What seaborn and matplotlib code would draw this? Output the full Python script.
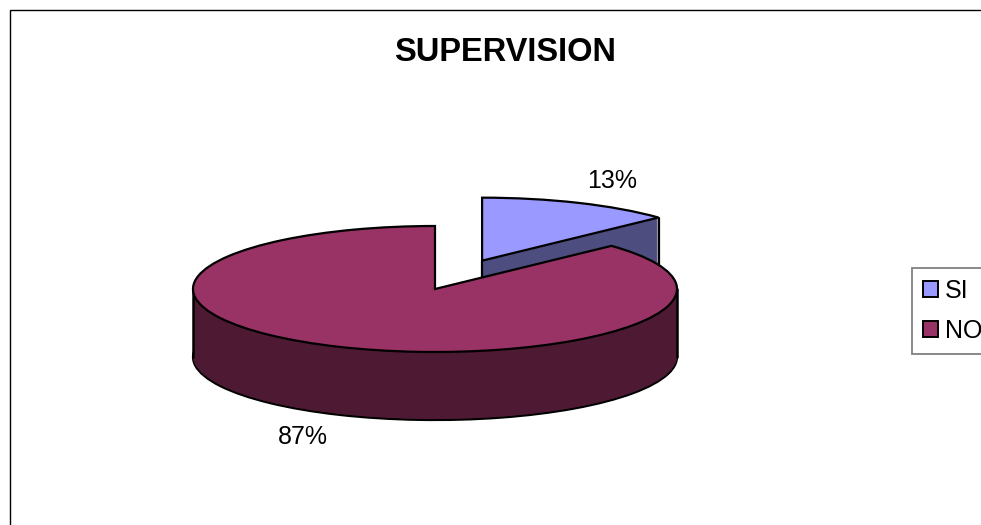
import numpy as np
import matplotlib
matplotlib.use("Agg")
import matplotlib.pyplot as plt
from matplotlib.patches import Rectangle
import seaborn as sns

categories = ["SI", "NO"]
values = [13, 87]
pct_labels = ["13%", "87%"]
title = "SUPERVISION"
top_colors = ["#9999ff", "#993366"]
side_colors = ["#4d4d80", "#4d1933"]

W, H = 981, 525
CX, CY = 435, 289      # pie centre in pixels
RX, RY = 242, 63       # ellipse radii in pixels
DEPTH_PX = 68
EXPLODE = [0.49, 0.0]

sns.set_theme(style="white", rc={"axes.facecolor": "white", "figure.facecolor": "white",
                                 "text.color": "black"})
plt.rcParams["font.family"] = ["Liberation Sans", "DejaVu Sans"]
sns.set_palette(top_colors)

fig = plt.figure(figsize=(W / 100, H / 100), dpi=100, facecolor="white")
ax = fig.add_axes([0, 0, 1, 1])

depth = DEPTH_PX / RY
pie_kw = dict(startangle=90, counterclock=False, explode=EXPLODE, radius=1.0)

# side walls: stack of darker pies, one per pixel of depth
steps = np.arange(DEPTH_PX, 0, -1) / RY
for s in steps:
    is_last = s == steps[0]
    wedges, _ = ax.pie(values, center=(0, -s), colors=side_colors,
                       wedgeprops=dict(edgecolor="black" if is_last else "none",
                                       linewidth=1.6 if is_last else 0), **pie_kw)
    wedges[0].set_zorder(1)
    wedges[1].set_zorder(4)

# top faces
tops, _ = ax.pie(values, center=(0, 0), colors=top_colors,
                 wedgeprops=dict(edgecolor="black", linewidth=1.6), **pie_kw)
tops[0].set_zorder(3)
tops[1].set_zorder(6)

# vertical outlines
frac = np.array(values) / sum(values)
theta = 2 * np.pi * frac[0]
mid = theta / 2
ex, ey = EXPLODE[0] * np.sin(mid), EXPLODE[0] * np.cos(mid)
rim_x, rim_y = ex + np.sin(theta), ey + np.cos(theta)
ax.plot([rim_x, rim_x], [rim_y, rim_y - depth], color="black", lw=1.6, zorder=2)
ax.plot([ex, ex], [ey, ey - depth], color="black", lw=1.6, zorder=2)
for sx in (-1, 1):
    ax.plot([sx, sx], [0, -depth], color="black", lw=1.8, zorder=5)

ax.set_aspect("auto")
ax.set_xlim(-CX / RX, (W - CX) / RX)
ax.set_ylim(-(H - CY) / RY, CY / RY)
ax.axis("off")

# percentage labels
def px(x, y):
    return x / W, 1 - y / H

fig.text(*px(612, 180.5), pct_labels[0], fontsize=18, ha="center", va="center", color="black")
fig.text(*px(303, 436.5), pct_labels[1], fontsize=18, ha="center", va="center", color="black")
fig.text(*px(505, 52.5), title, fontsize=23.5, fontweight="bold", ha="center", va="center", color="black")

# outer chart frame, cropped by the picture
fig.add_artist(Rectangle(px(10, 600), 1200 / W, 590 / H, transform=fig.transFigure,
                         fill=False, edgecolor="black", linewidth=1.0))

# legend, cropped by the right edge
leg = ax.legend(tops, categories, loc="upper left", bbox_to_anchor=px(912, 268),
                bbox_transform=fig.transFigure, borderaxespad=0, fontsize=18,
                frameon=True, fancybox=False, edgecolor="#808080", framealpha=1,
                handlelength=0.6, handleheight=0.6, handletextpad=0.3,
                labelspacing=0.66, borderpad=0.42)
leg.get_frame().set_linewidth(1.3)
leg.set_zorder(10)
for h in leg.legend_handles:
    h.set_linewidth(1.4)
for t in leg.get_texts():
    t.set_color("black")

fig.savefig("out.png", dpi=100, facecolor="white")
